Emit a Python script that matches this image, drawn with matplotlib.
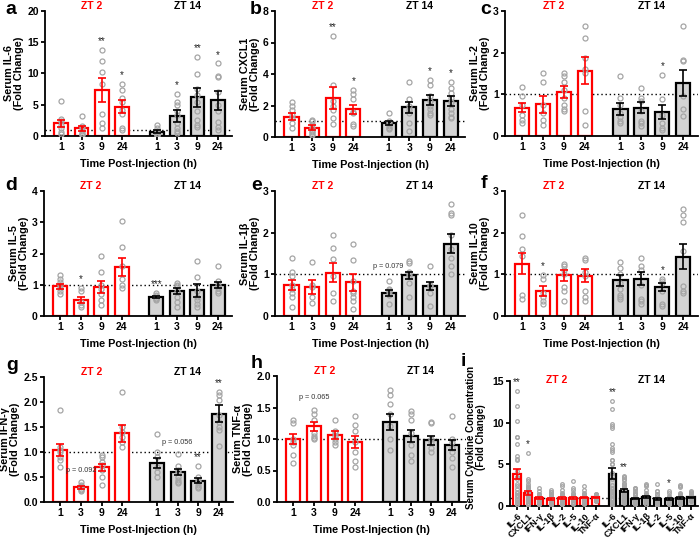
import matplotlib
matplotlib.use('Agg')
import matplotlib.pyplot as plt
import numpy as np
from matplotlib.transforms import blended_transform_factory
from matplotlib.ticker import FormatStrFormatter

plt.rcParams['font.family'] = ['Liberation Sans', 'DejaVu Sans']
plt.rcParams['font.weight'] = 'bold'
plt.rcParams['axes.linewidth'] = 1.3

TIMES = ['1', '3', '9', '24']
GROUPS = ['ZT 2', 'ZT 14']
CYTOKINES = ['IL-6', 'CXCL1', 'IFN-γ', 'IL-1β', 'IL-2', 'IL-5', 'IL-10', 'TNF-α']

# ---- a: IL-6 ----
IL6_MEAN = [2.0, 1.2, 7.3, 4.7, 0.7, 3.2, 6.2, 5.7]
IL6_SEM = [0.6, 0.4, 1.9, 1.0, 0.3, 0.9, 1.5, 1.5]
IL6_PTS = [[5.6, 2.7, 2.4, 1.7, 1.2, 0.6, 0.3],
           [3.2, 1.6, 1.3, 0.8, 0.5, 0.3, 0.2],
           [13.8, 12.0, 10.2, 8.3, 3.5, 2.0, 1.3],
           [8.3, 7.4, 6.0, 5.5, 4.2, 3.5, 1.2, 0.9],
           [1.7, 1.2, 0.8, 0.5, 0.3, 0.2, 0.1],
           [6.7, 5.5, 5.0, 4.0, 3.3, 2.0, 1.3, 0.8, 0.4],
           [12.6, 9.9, 7.5, 6.5, 5.5, 4.0, 2.5, 1.8, 1.5],
           [11.6, 9.6, 9.4, 7.0, 5.0, 4.0, 2.2, 1.5, 1.0]]
IL6_SIG = ['', '', '**', '*', '', '*', '**', '*']

# ---- b: CXCL1 ----
CXCL1_MEAN = [1.3, 0.6, 2.5, 1.75, 0.9, 1.9, 2.35, 2.3]
CXCL1_SEM = [0.2, 0.15, 0.7, 0.3, 0.12, 0.35, 0.3, 0.3]
CXCL1_PTS = [[2.2, 2.0, 1.7, 1.4, 1.2, 0.9, 0.6],
             [1.1, 1.0, 0.8, 0.6, 0.4, 0.3, 0.2, 0.1],
             [6.4, 3.3, 2.3, 2.0, 1.7, 1.2, 0.8],
             [3.0, 2.7, 2.4, 1.6, 1.5, 0.8, 0.7],
             [1.5, 1.0, 0.9, 0.7, 0.6, 0.5],
             [3.5, 2.4, 2.0, 1.7, 1.5, 0.9, 0.4],
             [3.6, 3.3, 2.6, 2.3, 2.0, 1.8, 1.5, 1.4],
             [3.5, 3.1, 2.8, 2.5, 2.2, 1.8, 1.5, 1.3, 1.2]]
CXCL1_SIG = ['', '', '**', '*', '', '', '*', '*']

# ---- c: IL-2 ----
IL2_MEAN = [0.68, 0.76, 1.05, 1.57, 0.65, 0.68, 0.58, 1.27]
IL2_SEM = [0.1, 0.21, 0.15, 0.33, 0.15, 0.13, 0.17, 0.32]
IL2_PTS = [[1.17, 0.97, 0.75, 0.5, 0.38, 0.3],
           [1.5, 1.3, 0.75, 0.55, 0.38, 0.27],
           [1.5, 1.45, 1.3, 1.1, 0.9, 0.75, 0.65, 0.6],
           [2.65, 2.35, 1.88, 1.6, 1.5, 0.6, 0.26],
           [1.43, 0.92, 0.75, 0.55, 0.45, 0.35, 0.3],
           [1.15, 0.9, 0.85, 0.6, 0.35, 0.3, 0.25],
           [1.47, 0.88, 0.5, 0.3, 0.2, 0.15],
           [2.65, 1.82, 1.8, 0.97, 0.65, 0.47]]
IL2_SIG = ['', '', '', '', '', '', '*', '']

# ---- d: IL-5 ----
IL5_MEAN = [0.95, 0.52, 0.93, 1.57, 0.6, 0.8, 0.82, 1.0]
IL5_SEM = [0.08, 0.1, 0.2, 0.3, 0.03, 0.1, 0.2, 0.1]
IL5_PTS = [[1.3, 1.2, 1.1, 1.0, 0.9, 0.8, 0.7],
           [0.9, 0.8, 0.45, 0.35, 0.3],
           [1.93, 1.4, 1.0, 0.85, 0.7, 0.5, 0.35],
           [3.05, 2.22, 1.6, 1.2, 1.0, 0.9],
           [0.75, 0.68, 0.63, 0.58, 0.55, 0.5],
           [1.05, 1.0, 0.95, 0.8, 0.6, 0.45, 0.28],
           [1.75, 1.25, 0.8, 0.6, 0.5, 0.4, 0.3],
           [1.6, 1.12, 1.0, 0.9, 0.8, 0.75]]
IL5_SIG = ['', '*', '', '', '***', '', '', '']

# ---- e: IL-1beta ----
IL1B_MEAN = [0.75, 0.7, 1.04, 0.81, 0.56, 0.98, 0.72, 1.74]
IL1B_SEM = [0.12, 0.16, 0.23, 0.2, 0.07, 0.08, 0.1, 0.23]
IL1B_PTS = [[1.4, 1.05, 0.95, 0.75, 0.65, 0.55, 0.45, 0.22],
            [1.3, 0.75, 0.7, 0.45, 0.32],
            [1.94, 1.63, 1.37, 0.97, 0.55, 0.37],
            [1.74, 1.35, 0.85, 0.6, 0.55, 0.45, 0.35, 0.18],
            [0.83, 0.65, 0.62, 0.58, 0.5, 0.3],
            [1.32, 1.28, 1.05, 1.0, 0.95, 0.8, 0.45],
            [1.21, 0.75, 0.72, 0.55, 0.23],
            [2.68, 2.47, 2.42, 1.95, 1.6, 1.4, 1.2, 1.0]]
IL1B_SIG = ['', '', '', '', '', '', '', '']

# ---- f: IL-10 ----
IL10_MEAN = [1.26, 0.6, 0.98, 0.97, 0.86, 0.9, 0.7, 1.42]
IL10_SEM = [0.26, 0.13, 0.13, 0.15, 0.13, 0.15, 0.1, 0.3]
IL10_PTS = [[2.42, 1.93, 1.6, 1.45, 0.5, 0.42],
            [0.98, 0.9, 0.55, 0.45, 0.35, 0.3],
            [1.25, 1.2, 1.1, 1.0, 0.7, 0.6, 0.37],
            [1.4, 1.35, 1.05, 0.95, 0.6, 0.45, 0.35],
            [1.3, 1.15, 1.0, 0.8, 0.65, 0.5, 0.45, 0.4],
            [1.4, 1.2, 1.1, 0.75, 0.4, 0.35, 0.3],
            [0.9, 0.85, 0.8, 0.6, 0.3, 0.25],
            [2.56, 2.42, 2.26, 1.55, 0.72, 0.6, 0.55]]
IL10_SIG = ['', '*', '', '', '', '', '*', '']

# ---- g: IFN-gamma ----
IFNG_MEAN = [1.05, 0.3, 0.7, 1.38, 0.78, 0.6, 0.43, 1.77]
IFNG_SEM = [0.12, 0.03, 0.07, 0.17, 0.1, 0.06, 0.05, 0.17]
IFNG_PTS = [[1.85, 1.1, 1.05, 1.0, 0.9, 0.85, 0.7],
            [0.4, 0.35, 0.33, 0.3, 0.27, 0.25, 0.22],
            [0.95, 0.9, 0.8, 0.75, 0.65, 0.5, 0.35],
            [2.2, 1.5, 1.4, 1.3, 1.2, 1.1],
            [1.37, 1.0, 0.9, 0.7, 0.6, 0.5],
            [0.97, 0.72, 0.65, 0.6, 0.5, 0.45, 0.4, 0.38],
            [0.72, 0.5, 0.45, 0.4, 0.35, 0.3, 0.28],
            [2.2, 2.15, 2.05, 1.75, 1.6, 1.5, 1.45, 1.13]]
IFNG_SIG = ['', '', '', '', '', '', '**', '**']

# ---- h: TNF-alpha ----
TNFA_MEAN = [1.0, 1.2, 1.06, 0.95, 1.27, 1.05, 0.98, 0.9]
TNFA_SEM = [0.08, 0.07, 0.06, 0.1, 0.13, 0.1, 0.07, 0.08]
TNFA_PTS = [[1.3, 1.25, 1.0, 0.95, 0.9, 0.75, 0.62],
            [1.46, 1.4, 1.3, 1.1, 1.05, 1.02, 1.0],
            [1.3, 1.12, 1.1, 1.05, 1.0, 0.95, 0.9],
            [1.36, 1.22, 1.12, 0.95, 0.8, 0.65, 0.55],
            [1.78, 1.7, 1.55, 1.4, 1.2, 1.0, 0.82],
            [1.45, 1.4, 1.3, 1.1, 0.9, 0.75, 0.65],
            [1.27, 1.25, 1.0, 0.95, 0.85, 0.8],
            [1.37, 1.0, 0.95, 0.85, 0.8, 0.7, 0.56]]
TNFA_SIG = ['', '', '', '', '', '', '', '']

# p-value notes: (bar index, y value, text)
IL1B_P = [(4, 1.1, 'p = 0.079')]
IFNG_P = [(1, 0.55, 'p = 0.092'), (5, 1.12, 'p = 0.056')]
TNFA_P = [(1, 1.6, 'p = 0.065')]

# ---- i: pooled ----
POOL_ZT2_MEAN = [3.9, 1.55, 0.95, 0.85, 1.0, 1.0, 1.0, 1.05]
POOL_ZT2_SEM = [0.6, 0.2, 0.08, 0.08, 0.1, 0.1, 0.07, 0.05]
POOL_ZT14_MEAN = [3.9, 1.85, 0.9, 1.05, 0.85, 0.85, 1.0, 1.05]
POOL_ZT14_SEM = [0.7, 0.2, 0.1, 0.1, 0.1, 0.08, 0.1, 0.05]
POOL_ZT2_SIG = ['**', '*', '', '', '', '', '', '']
POOL_ZT14_SIG = ['**', '**', '', '', '', '*', '', '']

RED = '#FF0000'
GRAYFILL = '#D4D4D4'
PTCOL = '#A5A5A5'

W, H = 700, 540
fig = plt.figure(figsize=(7, 5.4), dpi=100)


def add_ax(l, t, r, b):
    return fig.add_axes([l / W, 1 - b / H, (r - l) / W, (b - t) / H])


def style_ax(ax):
    for s in ['top', 'right']:
        ax.spines[s].set_visible(False)
    ax.tick_params(direction='out', length=3, width=1.3, labelsize=7.5, pad=1.5)
    for lab in ax.get_xticklabels() + ax.get_yticklabels():
        lab.set_fontweight('bold')


POS = [0, 1, 2, 3, 4.7, 5.7, 6.7, 7.7]

panels = [
    ('a', 'Serum IL-6', IL6_MEAN, IL6_SEM, IL6_PTS, IL6_SIG, [], 20, 5, '%d', (45, 11, 232, 136)),
    ('b', 'Serum CXCL1', CXCL1_MEAN, CXCL1_SEM, CXCL1_PTS, CXCL1_SIG, [], 8, 2, '%d', (275, 11, 465, 137)),
    ('c', 'Serum IL-2', IL2_MEAN, IL2_SEM, IL2_PTS, IL2_SIG, [], 3, 1, '%d', (505, 11, 698, 136)),
    ('d', 'Serum IL-5', IL5_MEAN, IL5_SEM, IL5_PTS, IL5_SIG, [], 4, 1, '%d', (44, 191, 232, 316)),
    ('e', 'Serum IL-1β', IL1B_MEAN, IL1B_SEM, IL1B_PTS, IL1B_SIG, IL1B_P, 3, 1, '%d', (275, 191, 465, 316)),
    ('f', 'Serum IL-10', IL10_MEAN, IL10_SEM, IL10_PTS, IL10_SIG, [], 3, 1, '%d', (505, 191, 698, 316)),
    ('g', 'Serum IFN-γ', IFNG_MEAN, IFNG_SEM, IFNG_PTS, IFNG_SIG, IFNG_P, 2.5, 0.5, '%.1f', (44, 377, 233, 502)),
    ('h', 'Serum TNF-α', TNFA_MEAN, TNFA_SEM, TNFA_PTS, TNFA_SIG, TNFA_P, 2.0, 0.5, '%.1f', (277, 376, 466, 502)),
]
LETTER_POS = {'a': (11, 10), 'b': (256, 9), 'c': (486, 10), 'd': (11, 185), 'e': (257, 185),
              'f': (484, 183), 'g': (12, 365), 'h': (257, 364), 'i': (463, 362)}


def draw_bars(ax, xs, means, sems, pts, sigs, ymax, width, ms, edgecol, fill, errcol):
    ax.bar(xs, means, width=width, color=fill, edgecolor=edgecol, linewidth=1.6, zorder=2)
    for x, p in zip(xs, pts):
        ax.plot([x] * len(p), p, 'o', mfc='none', mec=PTCOL, ms=ms, mew=0.9, zorder=3)
    ax.errorbar(xs, means, yerr=sems, fmt='none', ecolor=errcol, elinewidth=1.2,
                capsize=3, capthick=1.2, zorder=4)
    for x, p, s in zip(xs, pts, sigs):
        if s:
            ax.text(x, max(p) + 0.03 * ymax, s, ha='center', va='bottom', fontsize=7,
                    fontweight='normal', color='#222222')


for (letter, ylab, mean, sem, pts, sig, pnotes, ymax, ystep, fmt, rect) in panels:
    ax = add_ax(*rect)
    draw_bars(ax, POS[:4], mean[:4], sem[:4], pts[:4], sig[:4], ymax, 0.68, 3.6, RED, 'white', RED)
    draw_bars(ax, POS[4:], mean[4:], sem[4:], pts[4:], sig[4:], ymax, 0.68, 3.6, 'black', GRAYFILL, 'black')
    ax.axhline(1, color='black', linestyle=(0, (1, 2)), linewidth=1.0, zorder=1)
    ax.set_xlim(-0.8, 8.4)
    ax.set_ylim(0, ymax)
    ax.set_yticks(np.arange(0, ymax + 1e-9, ystep))
    ax.yaxis.set_major_formatter(FormatStrFormatter(fmt))
    ax.set_xticks(POS)
    ax.set_xticklabels(TIMES * 2)
    style_ax(ax)
    ax.set_ylabel(ylab + '\n(Fold Change)', fontsize=7.8, fontweight='bold', labelpad=2, linespacing=1.0)
    ax.set_xlabel('Time Post-Injection (h)', fontsize=7.8, fontweight='bold', labelpad=5)
    tr = blended_transform_factory(ax.transData, ax.transAxes)
    ax.text(np.mean(POS[:4]), 1.0, GROUPS[0], transform=tr, ha='center', va='bottom',
            fontsize=7.5, fontweight='bold', color=RED)
    ax.text(np.mean(POS[4:]), 1.0, GROUPS[1], transform=tr, ha='center', va='bottom',
            fontsize=7.5, fontweight='bold', color='black')
    for (bi, yv, txt) in pnotes:
        ax.text(POS[bi], yv, txt, ha='center', va='bottom', fontsize=5.2,
                fontweight='normal', color='#333333')
    lx, ly = LETTER_POS[letter]
    fig.text(lx / W, 1 - ly / H, letter, fontsize=14, fontweight='bold', ha='center', va='center')

# ---- panel i ----
POOL_PTS_ZT2 = [sum(d[:4], []) for d in [IL6_PTS, CXCL1_PTS, IFNG_PTS, IL1B_PTS, IL2_PTS, IL5_PTS, IL10_PTS, TNFA_PTS]]
POOL_PTS_ZT14 = [sum(d[4:], []) for d in [IL6_PTS, CXCL1_PTS, IFNG_PTS, IL1B_PTS, IL2_PTS, IL5_PTS, IL10_PTS, TNFA_PTS]]
POS_I2 = list(np.arange(8))
POS_I14 = list(np.arange(8) + 8.5)

axi = add_ax(510, 381, 698, 506)
draw_bars(axi, POS_I2, POOL_ZT2_MEAN, POOL_ZT2_SEM, POOL_PTS_ZT2, POOL_ZT2_SIG, 15, 0.7, 2.6, RED, 'white', RED)
draw_bars(axi, POS_I14, POOL_ZT14_MEAN, POOL_ZT14_SEM, POOL_PTS_ZT14, POOL_ZT14_SIG, 15, 0.7, 2.6, 'black', GRAYFILL, 'black')
axi.axhline(1, color='black', linestyle=(0, (1, 2)), linewidth=1.0, zorder=1)
axi.set_xlim(-0.6, 16.1)
axi.set_ylim(0, 15)
axi.set_yticks([0, 5, 10, 15])
axi.set_xticks(POS_I2 + POS_I14)
axi.set_xticklabels(CYTOKINES * 2, rotation=45, ha='right', rotation_mode='anchor')
style_ax(axi)
axi.tick_params(axis='x', pad=1)
for lab in axi.get_xticklabels():
    lab.set_fontsize(6.6)
axi.set_ylabel('Serum Cytokine Concentration\n(Fold Change)', fontsize=7, fontweight='bold',
               labelpad=2, linespacing=1.0)
axi.yaxis.set_label_coords(-0.13, 0.55)
tri = blended_transform_factory(axi.transData, axi.transAxes)
axi.text(np.mean(POS_I2), 0.97, GROUPS[0], transform=tri, ha='center', va='bottom',
         fontsize=7.5, fontweight='bold', color=RED)
axi.text(np.mean(POS_I14), 0.97, GROUPS[1], transform=tri, ha='center', va='bottom',
         fontsize=7.5, fontweight='bold', color='black')
lx, ly = LETTER_POS['i']
fig.text(lx / W, 1 - ly / H, 'i', fontsize=14, fontweight='bold', ha='center', va='center')

fig.savefig('out.png', dpi=100)
